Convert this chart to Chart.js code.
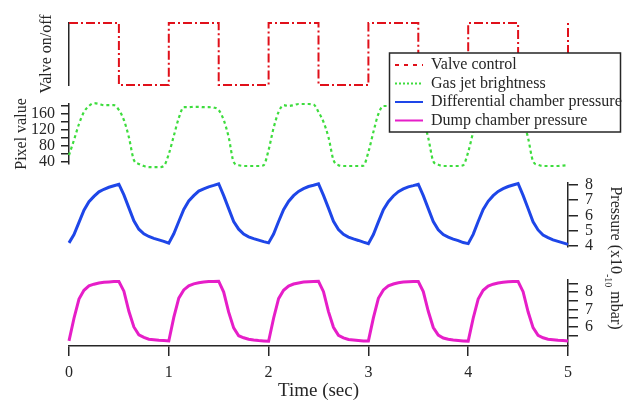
<!DOCTYPE html>
<html>
<head>
<meta charset="utf-8">
<title>Gas jet valve timing</title>
<script src="https://cdn.jsdelivr.net/npm/chart.js@4.4.0/dist/chart.umd.min.js"></script>
<style>
  html, body { margin: 0; padding: 0; background: #fff; }
</style>
</head>
<body>
<canvas id="valveChart" width="637" height="405"></canvas>
<script>
// sample times (sec) for the measured traces
const time = [
  0, 0.05, 0.1, 0.15, 0.2, 0.25, 0.3, 0.35, 0.4, 0.45, 0.5, 0.55, 0.6, 0.65, 0.7, 0.75, 0.8, 0.85, 0.9, 0.95,
  1, 1.05, 1.1, 1.15, 1.2, 1.25, 1.3, 1.35, 1.4, 1.45, 1.5, 1.55, 1.6, 1.65, 1.7, 1.75, 1.8, 1.85, 1.9, 1.95,
  2, 2.05, 2.1, 2.15, 2.2, 2.25, 2.3, 2.35, 2.4, 2.45, 2.5, 2.55, 2.6, 2.65, 2.7, 2.75, 2.8, 2.85, 2.9, 2.95,
  3, 3.05, 3.1, 3.15, 3.2, 3.25, 3.3, 3.35, 3.4, 3.45, 3.5, 3.55, 3.6, 3.65, 3.7, 3.75, 3.8, 3.85, 3.9, 3.95,
  4, 4.05, 4.1, 4.15, 4.2, 4.25, 4.3, 4.35, 4.4, 4.45, 4.5, 4.55, 4.6, 4.65, 4.7, 4.75, 4.8, 4.85, 4.9, 4.95,
  5
];

// valve on/off switching points (stepped)
const valveTime  = [0, 0.5, 1, 1.5, 2, 2.5, 3, 3.5, 4, 4.5, 5];
const valveState = [1, 0,   1, 0,   1, 0,   1, 0,   1, 0,   1];

// gas jet brightness (pixel value)
const gasJet = [
  57, 95, 135, 165, 180, 187, 185, 182, 182, 182, 170, 145, 102, 45, 35, 30, 27, 27, 27, 30,
  60, 105, 150, 177, 177, 178, 178, 177, 177, 176, 170, 145, 102, 40, 32, 30, 30, 30, 30, 32,
  70, 125, 165, 182, 180, 182, 185, 185, 185, 184, 165, 140, 102, 45, 32, 30, 30, 30, 30, 31,
  65, 115, 160, 180, 180, 181, 182, 182, 182, 180, 170, 145, 100, 42, 33, 30, 30, 30, 30, 32,
  65, 115, 160, 180, 181, 182, 182, 182, 181, 180, 170, 145, 100, 42, 33, 30, 30, 30, 30, 31,
  32
];

// differential chamber pressure (x1e-10 mbar)
const diffPressure = [
  4.2, 4.75, 5.55, 6.35, 6.9, 7.25, 7.55, 7.72, 7.85, 7.95, 8.05, 7.35, 6.5, 5.65, 5.1, 4.8, 4.62, 4.5, 4.4, 4.3,
  4.18, 4.8, 5.6, 6.4, 6.95, 7.3, 7.6, 7.75, 7.88, 7.97, 8.08, 7.3, 6.45, 5.6, 5.1, 4.78, 4.6, 4.48, 4.38, 4.28,
  4.2, 4.78, 5.6, 6.38, 6.92, 7.3, 7.58, 7.76, 7.9, 7.98, 8.07, 7.32, 6.48, 5.62, 5.08, 4.76, 4.58, 4.46, 4.36, 4.25,
  4.15, 4.75, 5.58, 6.38, 6.9, 7.28, 7.56, 7.74, 7.88, 7.96, 8.05, 7.3, 6.45, 5.6, 5.06, 4.75, 4.58, 4.45, 4.35, 4.22,
  4.15, 4.76, 5.6, 6.4, 6.93, 7.3, 7.58, 7.76, 7.9, 8.0, 8.1, 7.32, 6.46, 5.58, 5.05, 4.72, 4.55, 4.4, 4.3, 4.2,
  4.1
];

// dump chamber pressure (x1e-10 mbar)
const dumpPressure = [
  5.2, 6.5, 7.6, 8.1, 8.35, 8.45, 8.52, 8.56, 8.58, 8.6, 8.6, 8.05, 6.9, 6.0, 5.55, 5.4, 5.3, 5.27, 5.24, 5.22,
  5.2, 6.55, 7.65, 8.12, 8.36, 8.47, 8.53, 8.57, 8.6, 8.6, 8.62, 8.0, 6.85, 5.95, 5.5, 5.38, 5.3, 5.25, 5.22, 5.2,
  5.18, 6.5, 7.62, 8.1, 8.34, 8.46, 8.52, 8.57, 8.59, 8.6, 8.61, 8.02, 6.88, 5.98, 5.52, 5.38, 5.28, 5.25, 5.22, 5.19,
  5.2, 6.52, 7.64, 8.12, 8.35, 8.46, 8.53, 8.57, 8.59, 8.61, 8.6, 8.03, 6.9, 5.97, 5.53, 5.37, 5.3, 5.26, 5.23, 5.2,
  5.19, 6.5, 7.6, 8.1, 8.34, 8.45, 8.52, 8.56, 8.59, 8.6, 8.6, 8.02, 6.87, 5.96, 5.52, 5.38, 5.3, 5.27, 5.24, 5.22,
  5.2
];

const xTicks = [0, 1, 2, 3, 4, 5];
const pixelTicks = [40, 60, 80, 100, 120, 140, 160, 180];
const diffTicks = [4, 5, 6, 7, 8];
const dumpTicks = [5.5, 6, 6.5, 7, 7.5, 8, 8.5];

const serif = "'Liberation Serif', 'Times New Roman', serif";
const ink = '#262626';
const pts = (xs, ys) => xs.map((x, i) => ({ x: x, y: ys[i] }));
const setTicks = (vals) => (scale) => { scale.ticks = vals.map(v => ({ value: v })); };
const fixWidth = (scale) => { scale.width = 69; };

// empty axes used only to space the stacked panels
function spacer(pos, stack, weight, stackWeight) {
  return {
    type: 'linear', position: pos, stack: stack, weight: weight, stackWeight: stackWeight,
    ticks: { display: false }, grid: { display: false }, border: { display: false },
    afterFit: fixWidth
  };
}

function tickAxis(pos, stack, weight, stackWeight, min, max, ticks, cb, tickLen, pad) {
  return {
    type: 'linear', position: pos, stack: stack, weight: weight, stackWeight: stackWeight,
    min: min, max: max,
    afterBuildTicks: setTicks(ticks),
    afterFit: fixWidth,
    ticks: { autoSkip: false, color: ink, padding: pad, font: { family: serif, size: 16 }, callback: cb },
    grid: { display: true, drawOnChartArea: false, drawTicks: true, tickLength: tickLen, color: ink, lineWidth: 1.5 },
    border: { display: true, color: ink, width: 1.5 }
  };
}

const pixelAxis = tickAxis('left', 'L', 2, 60, 35, 185, pixelTicks, v => (v % 40 === 0 ? v : ''), 8, 6);
pixelAxis.title = { display: true, text: 'Pixel value', color: ink, font: { family: serif, size: 16 }, padding: { top: 12, bottom: 0 } };

const diffAxis = tickAxis('right', 'R', 2, 64, 3.93, 8.13, diffTicks, v => v, 10, 7);
const dumpAxis = tickAxis('right', 'R', 4, 66, 4.91, 8.69, dumpTicks, v => (Number.isInteger(v) ? v : ''), 10, 7);

// legend frame drawn over the data, then the legend again on top
const legendFrame = {
  id: 'legendFrame',
  afterLayout(chart) {
    const lg = chart.legend;
    const w = lg.width, h = lg.height;
    lg.left = 392.5; lg.top = 54.5;
    lg.right = lg.left + w; lg.bottom = lg.top + h;
  },
  afterDatasetsDraw(chart) {
    const ctx = chart.ctx;
    ctx.save();
    ctx.fillStyle = '#fff';
    ctx.fillRect(389.5, 53, 231, 79);
    ctx.strokeStyle = ink;
    ctx.lineWidth = 1.5;
    ctx.strokeRect(389.5, 53, 231, 79);
    ctx.restore();
    chart.legend.draw(chart.chartArea);
  }
};

// shared pressure title with superscript exponent
const pressureTitle = {
  id: 'pressureTitle',
  afterDraw(chart) {
    const ctx = chart.ctx;
    const big = '16px ' + serif, small = '10px ' + serif;
    const a = 'Pressure (x10', b = '-10', c = ' mbar)';
    ctx.save();
    ctx.font = big;
    const wa = ctx.measureText(a).width, wc = ctx.measureText(c).width;
    ctx.font = small;
    const wb = ctx.measureText(b).width;
    const total = wa + wb + wc;
    ctx.translate(615, 258 - total / 2);
    ctx.rotate(Math.PI / 2);
    ctx.fillStyle = ink;
    ctx.textBaseline = 'middle';
    ctx.textAlign = 'left';
    ctx.font = big;
    ctx.fillText(a, 0, 0);
    ctx.font = small;
    ctx.fillText(b, wa, 7);
    ctx.font = big;
    ctx.fillText(c, wa + wb, 0);
    ctx.restore();
  }
};

// legend samples keep each dataset's dash pattern and width
function legendLabels(chart) {
  return Chart.defaults.plugins.legend.labels.generateLabels(chart).map(item => {
    const ds = chart.data.datasets[item.datasetIndex];
    item.lineDash = ds.legendDash || [];
    item.lineWidth = 2;
    item.strokeStyle = ds.borderColor;
    return item;
  });
}

new Chart(document.getElementById('valveChart'), {
  type: 'line',
  data: {
    datasets: [
      {
        label: 'Valve control', data: pts(valveTime, valveState), yAxisID: 'yValve',
        stepped: true, borderColor: '#e0101a', borderWidth: 2, borderDash: [9, 3, 2, 3], legendDash: [4, 5]
      },
      {
        label: 'Gas jet brightness', data: pts(time, gasJet), yAxisID: 'yPixel',
        borderColor: '#3ddc3d', borderWidth: 2.2, borderDash: [3, 3], legendDash: [2, 2], cubicInterpolationMode: 'monotone'
      },
      {
        label: 'Differential chamber pressure', data: pts(time, diffPressure), yAxisID: 'yDiff',
        borderColor: '#1e46e8', borderWidth: 3
      },
      {
        label: 'Dump chamber pressure', data: pts(time, dumpPressure), yAxisID: 'yDump',
        borderColor: '#e61ec8', borderWidth: 3
      }
    ]
  },
  options: {
    responsive: false,
    animation: false,
    devicePixelRatio: 1,
    layout: { padding: { top: 23, left: 0, right: 0, bottom: 0 } },
    elements: { point: { radius: 0 }, line: { tension: 0 } },
    datasets: { line: { clip: false } },
    plugins: {
      tooltip: { enabled: false },
      legend: {
        position: 'chartArea', align: 'start',
        labels: {
          usePointStyle: true, pointStyle: 'line', pointStyleWidth: 28, padding: 2.5,
          color: ink, font: { family: serif, size: 16 }, generateLabels: legendLabels
        }
      }
    },
    scales: {
      x: {
        type: 'linear', position: 'bottom', min: 0, max: 5,
        afterBuildTicks: setTicks(xTicks),
        afterFit: (s) => { s.height = 59; },
        ticks: { color: ink, padding: 7, font: { family: serif, size: 16 } },
        grid: { display: true, drawOnChartArea: false, drawTicks: true, tickLength: 10, color: ink, lineWidth: 1.5 },
        border: { display: true, color: ink, width: 1.5 },
        title: { display: true, text: 'Time (sec)', color: ink, font: { family: serif, size: 19 }, padding: { top: 0, bottom: 3 } }
      },
      yValve: {
        type: 'linear', position: 'left', stack: 'L', weight: 4, stackWeight: 62, min: 0, max: 1,
        afterFit: fixWidth,
        ticks: { display: false }, grid: { display: false },
        border: { display: true, color: ink, width: 1.5 },
        title: { display: true, text: 'Valve on/off', color: ink, font: { family: serif, size: 16 }, padding: { top: 37, bottom: 0 } }
      },
      gapL: spacer('left', 'L', 3, 19),
      yPixel: pixelAxis,
      padL: spacer('left', 'L', 1, 182),
      padR: spacer('right', 'R', 1, 160),
      yDiff: diffAxis,
      gapR: spacer('right', 'R', 3, 33),
      yDump: dumpAxis
    }
  },
  plugins: [legendFrame, pressureTitle]
});
</script>
</body>
</html>
